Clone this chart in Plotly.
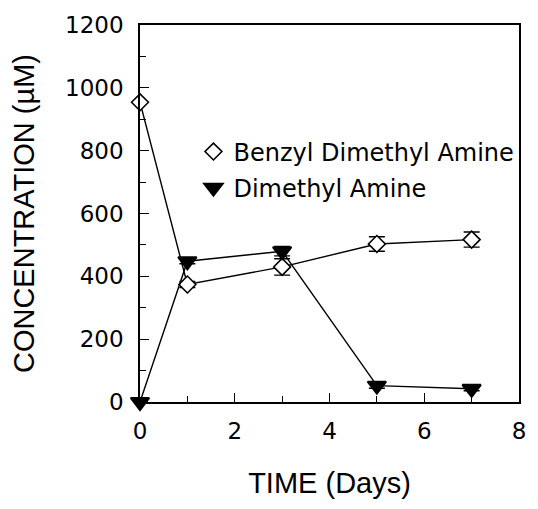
import plotly.graph_objects as go

# Sampling times (days)
time_days = [0, 1, 3, 5, 7]

# Concentrations (µM) and their error bars
benzyl_dimethyl_amine = [954, 374, 430, 503, 517]
benzyl_err = [0, 10, 26, 23, 24]
dimethyl_amine = [0, 448, 480, 52, 42]
dimethyl_err = [0, 8, 15, 8, 6]

series_names = ["Benzyl Dimethyl Amine", "Dimethyl Amine"]

x_ticks = [0, 2, 4, 6, 8]
y_ticks = [0, 200, 400, 600, 800, 1000, 1200]

TITLE_FONT = "Arial, Liberation Sans, sans-serif"
LABEL_FONT = "DejaVu Sans, sans-serif"

diamond = dict(symbol="diamond", size=13, color="white",
               line=dict(color="black", width=1.6))
triangle = dict(symbol="triangle-down", size=16, color="black",
                line=dict(color="black", width=2))

fig = go.Figure()

fig.add_trace(go.Scatter(
    x=time_days, y=benzyl_dimethyl_amine,
    mode="lines+markers", showlegend=False,
    line=dict(color="black", width=1.4),
    marker=diamond,
    error_y=dict(type="data", array=benzyl_err, color="black",
                 thickness=1.4, width=8),
    cliponaxis=False,
))

fig.add_trace(go.Scatter(
    x=time_days, y=dimethyl_amine,
    mode="lines+markers", showlegend=False,
    line=dict(color="black", width=1.4),
    marker=triangle,
    error_y=dict(type="data", array=dimethyl_err, color="black",
                 thickness=1.4, width=8),
    cliponaxis=False,
))

# Marker-only legend entries (symbol without the connecting line)
for name, marker, group in zip(series_names, [diamond, triangle], ["a", "b"]):
    fig.add_trace(go.Scatter(
        x=[None], y=[None], mode="markers", name=name,
        legendgroup=group, marker=marker,
    ))

fig.update_layout(
    width=538, height=509,
    margin=dict(l=140, r=12, t=19, b=107),
    paper_bgcolor="white", plot_bgcolor="white",
    font=dict(family=LABEL_FONT, size=24, color="black"),
    showlegend=True,
    legend=dict(
        x=0.141, y=0.723, xanchor="left", yanchor="top",
        bgcolor="rgba(0,0,0,0)",
        font=dict(family=LABEL_FONT, size=24, color="black"),
        traceorder="grouped", tracegroupgap=2,
        itemwidth=30,
    ),
)

fig.update_xaxes(
    range=[0, 8], tickvals=x_ticks,
    ticks="inside", ticklen=9, tickwidth=1.4, tickcolor="black",
    minor=dict(dtick=1, ticks="inside", ticklen=6, tickwidth=1.4, tickcolor="black"),
    showline=True, linecolor="black", linewidth=1.6, mirror=True,
    showgrid=False, zeroline=False,
    tickfont=dict(family=LABEL_FONT, size=23),
    ticklabelstandoff=8,
    title=dict(text="TIME (Days)", font=dict(family=TITLE_FONT, size=29), standoff=29),
)

fig.update_yaxes(
    range=[0, 1200], tickvals=y_ticks,
    ticks="inside", ticklen=9, tickwidth=1.4, tickcolor="black",
    minor=dict(dtick=100, ticks="inside", ticklen=6, tickwidth=1.4, tickcolor="black"),
    showline=True, linecolor="black", linewidth=1.6, mirror=True,
    showgrid=False, zeroline=False,
    tickfont=dict(family=LABEL_FONT, size=23),
    ticklabelstandoff=10,
    title=dict(text="CONCENTRATION (µM)", font=dict(family=TITLE_FONT, size=29), standoff=22),
)

fig.write_html("out.html")
